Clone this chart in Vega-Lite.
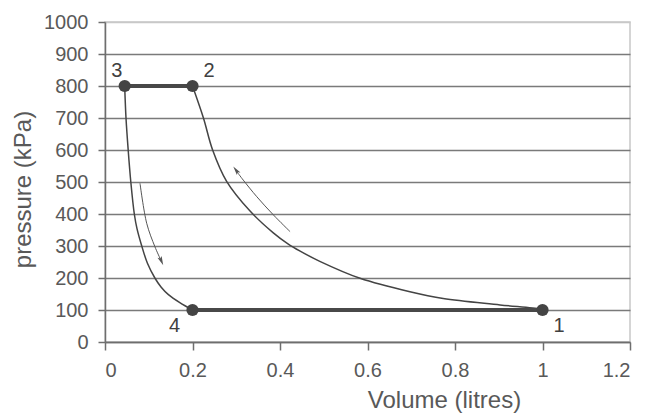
{
  "$schema": "https://vega.github.io/schema/vega-lite/v6.json",
  "width": 525,
  "height": 320,
  "autosize": {"type": "none"},
  "padding": {"left": 105, "top": 22, "right": 15, "bottom": 71},
  "background": "white",
  "config": {
    "font": "Liberation Sans",
    "view": {"stroke": "#c8c8c8", "strokeWidth": 1.5}
  },
  "datasets": {
    "curves": [
      {"curve": "compression", "seq": 1, "V": 1.0, "P": 100},
      {"curve": "compression", "seq": 2, "V": 0.994, "P": 103},
      {"curve": "compression", "seq": 3, "V": 0.903, "P": 116},
      {"curve": "compression", "seq": 4, "V": 0.773, "P": 136},
      {"curve": "compression", "seq": 5, "V": 0.697, "P": 157},
      {"curve": "compression", "seq": 6, "V": 0.583, "P": 199},
      {"curve": "compression", "seq": 7, "V": 0.491, "P": 252},
      {"curve": "compression", "seq": 8, "V": 0.446, "P": 284},
      {"curve": "compression", "seq": 9, "V": 0.419, "P": 306},
      {"curve": "compression", "seq": 10, "V": 0.384, "P": 342},
      {"curve": "compression", "seq": 11, "V": 0.331, "P": 410},
      {"curve": "compression", "seq": 12, "V": 0.278, "P": 502},
      {"curve": "compression", "seq": 13, "V": 0.246, "P": 600},
      {"curve": "compression", "seq": 14, "V": 0.225, "P": 700},
      {"curve": "compression", "seq": 15, "V": 0.2, "P": 800},
      {"curve": "expansion", "seq": 1, "V": 0.045, "P": 800},
      {"curve": "expansion", "seq": 2, "V": 0.048, "P": 700},
      {"curve": "expansion", "seq": 3, "V": 0.053, "P": 600},
      {"curve": "expansion", "seq": 4, "V": 0.059, "P": 500},
      {"curve": "expansion", "seq": 5, "V": 0.067, "P": 400},
      {"curve": "expansion", "seq": 6, "V": 0.073, "P": 355},
      {"curve": "expansion", "seq": 7, "V": 0.084, "P": 300},
      {"curve": "expansion", "seq": 8, "V": 0.097, "P": 246},
      {"curve": "expansion", "seq": 9, "V": 0.114, "P": 200},
      {"curve": "expansion", "seq": 10, "V": 0.128, "P": 172},
      {"curve": "expansion", "seq": 11, "V": 0.145, "P": 148},
      {"curve": "expansion", "seq": 12, "V": 0.171, "P": 123},
      {"curve": "expansion", "seq": 13, "V": 0.2, "P": 100}
    ],
    "isobars": [
      {"segment": "2-3", "seq": 1, "V": 0.2, "P": 800},
      {"segment": "2-3", "seq": 2, "V": 0.045, "P": 800},
      {"segment": "4-1", "seq": 1, "V": 0.2, "P": 100},
      {"segment": "4-1", "seq": 2, "V": 1.0, "P": 100}
    ],
    "states": [
      {"state": "1", "V": 1.0, "P": 100},
      {"state": "2", "V": 0.2, "P": 800},
      {"state": "3", "V": 0.045, "P": 800},
      {"state": "4", "V": 0.2, "P": 100}
    ],
    "labels": [
      {"label": "3", "V": 0.027, "P": 827},
      {"label": "2", "V": 0.238, "P": 827},
      {"label": "4", "V": 0.159, "P": 31},
      {"label": "1", "V": 1.038, "P": 32}
    ],
    "arrows": [
      {"arrow": "a", "seq": 1, "V": 0.423, "P": 345},
      {"arrow": "a", "seq": 2, "V": 0.385, "P": 397},
      {"arrow": "a", "seq": 3, "V": 0.347, "P": 454},
      {"arrow": "a", "seq": 4, "V": 0.316, "P": 506},
      {"arrow": "a", "seq": 5, "V": 0.301, "P": 533},
      {"arrow": "b", "seq": 1, "V": 0.08, "P": 496},
      {"arrow": "b", "seq": 2, "V": 0.0953, "P": 371},
      {"arrow": "b", "seq": 3, "V": 0.114, "P": 298},
      {"arrow": "b", "seq": 4, "V": 0.127, "P": 258}
    ],
    "headA": [{"V": 0.2994, "P": 537}],
    "headB": [{"V": 0.1289, "P": 253}]
  },
  "encoding": {
    "x": {
      "field": "V",
      "type": "quantitative",
      "scale": {"domain": [0, 1.2], "nice": false},
      "axis": {
        "title": "Volume (litres)",
        "values": [0, 0.2, 0.4, 0.6, 0.8, 1, 1.2],
        "format": "~g",
        "grid": false,
        "labelOverlap": false,
        "domainColor": "#6e6e6e",
        "domainWidth": 1.5,
        "tickColor": "#6e6e6e",
        "tickWidth": 1.5,
        "tickSize": 8,
        "labelFontSize": 20,
        "labelColor": "#595959",
        "labelPadding": 10,
        "titleFontSize": 24,
        "titleFontWeight": "normal",
        "titleColor": "#595959",
        "titleX": 339,
        "titleY": 65,
        "titleBaseline": "alphabetic"
      }
    },
    "y": {
      "field": "P",
      "type": "quantitative",
      "scale": {"domain": [0, 1000], "nice": false},
      "axis": {
        "title": "pressure (kPa)",
        "values": [0, 100, 200, 300, 400, 500, 600, 700, 800, 900, 1000],
        "tickCount": 11,
        "format": "d",
        "grid": true,
        "labelOverlap": false,
        "gridColor": {"condition": {"test": "datum.value === 1000", "value": "#c8c8c8"}, "value": "#7a7a7a"},
        "gridWidth": 1.5,
        "domainColor": "#6e6e6e",
        "domainWidth": 1.5,
        "tickColor": "#6e6e6e",
        "tickWidth": 1.5,
        "tickSize": 7,
        "labelFontSize": 20,
        "labelColor": "#595959",
        "labelPadding": 10,
        "titleFontSize": 24,
        "titleFontWeight": "normal",
        "titleColor": "#595959",
        "titlePadding": 8,
        "titleY": 167
      }
    }
  },
  "layer": [
    {
      "data": {"name": "curves"},
      "mark": {"type": "line", "color": "#444444", "strokeWidth": 1.5, "interpolate": "catmull-rom"},
      "encoding": {
        "detail": {"field": "curve"},
        "order": {"field": "seq", "type": "quantitative"}
      }
    },
    {
      "data": {"name": "isobars"},
      "mark": {"type": "line", "color": "#484848", "strokeWidth": 4},
      "encoding": {
        "detail": {"field": "segment"},
        "order": {"field": "seq", "type": "quantitative"}
      }
    },
    {
      "data": {"name": "arrows"},
      "mark": {"type": "line", "color": "#555555", "strokeWidth": 1, "interpolate": "catmull-rom"},
      "encoding": {
        "detail": {"field": "arrow"},
        "order": {"field": "seq", "type": "quantitative"}
      }
    },
    {
      "data": {"name": "headA"},
      "mark": {"type": "point", "shape": "M0,-1L0.5,1L0,0.6L-0.5,1Z", "filled": true, "color": "#555555", "opacity": 1, "size": 81, "angle": 323},
      "encoding": {}
    },
    {
      "data": {"name": "headB"},
      "mark": {"type": "point", "shape": "M0,-1L0.5,1L0,0.6L-0.5,1Z", "filled": true, "color": "#555555", "opacity": 1, "size": 81, "angle": 156},
      "encoding": {}
    },
    {
      "data": {"name": "states"},
      "mark": {"type": "circle", "color": "#444444", "opacity": 1, "size": 150},
      "encoding": {}
    },
    {
      "data": {"name": "labels"},
      "mark": {"type": "text", "fontSize": 20, "color": "#404040", "align": "center", "baseline": "alphabetic"},
      "encoding": {
        "text": {"field": "label"}
      }
    }
  ]
}
